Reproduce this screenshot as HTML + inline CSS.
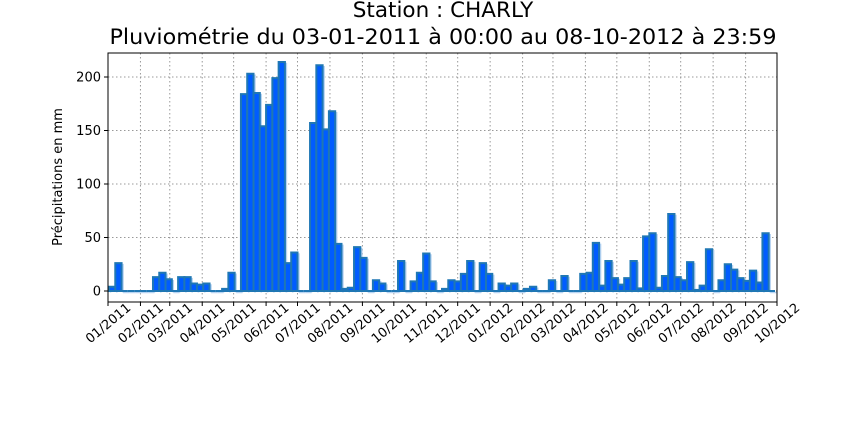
<!DOCTYPE html>
<html><head><meta charset="utf-8"><style>
body{margin:0;background:#fff}
svg{display:block;font-family:"DejaVu Sans","Liberation Sans",sans-serif}
</style></head><body>
<svg id="chart" width="864" height="432">
<text x="443" y="17" text-anchor="middle" font-size="21.5">Station : CHARLY</text>
<text x="443" y="44" text-anchor="middle" font-size="21.5" textLength="667" lengthAdjust="spacingAndGlyphs">Pluviométrie du 03-01-2011 à 00:00 au 08-10-2012 à 23:59</text>
<text transform="translate(62,177) rotate(-90)" text-anchor="middle" font-size="13">Précipitations en mm</text>
<g id="grid"></g><g id="bars"></g><g id="axes"></g>
</svg>
<script>
const values=[4,26,0,0,0,0,0,13,17,11,0,13,13,7,6,7,0,0,2,17,0,
184,203,185,154,174,199,214,26,36,0,0,157,211,151,168,44,2,3,41,31,0,10,7,0,0,28,0,9,17,35,9,0,
2,10,9,16,28,0,26,16,0,7,5,7,0,2,4,0,0,10,0,14,0,0,16,17,45,5,
28,12,6,12,28,2.5,51,54,3,14,72,13,10,27,1,5,39,0,10,25,20,12,9.5,19,8,54,0];
const yTicks=[0,50,100,150,200];
const monthLabels=["01/2011","02/2011","03/2011","04/2011","05/2011","06/2011","07/2011","08/2011","09/2011","10/2011","11/2011","12/2011","01/2012","02/2012","03/2012","04/2012","05/2012","06/2012","07/2012","08/2012","09/2012","10/2012"];

const NS="http://www.w3.org/2000/svg";
const L=108,R=777,T=53,B=302,barL=109,barR=775;
const y=v=>291-v*1.07;
const xBar=i=>barL+i*(barR-barL)/values.length;
const d0=Date.UTC(2011,0,1),d1=Date.UTC(2012,9,1);
const xMonth=s=>{const[m,yy]=s.split("/").map(Number);return L+(Date.UTC(yy,m-1,1)-d0)/(d1-d0)*(R-L);};
function mk(t,a,p){const e=document.createElementNS(NS,t);for(const k in a)e.setAttribute(k,a[k]);p.appendChild(e);return e;}
const grid=document.getElementById("grid"),bars=document.getElementById("bars"),axes=document.getElementById("axes");

yTicks.forEach(v=>{
  const g=mk("line",{x1:L,x2:R,y1:y(v),y2:y(v),stroke:"#999","stroke-dasharray":"1.5,2.5","stroke-width":1},grid);
  
  
  const tk=mk("line",{x1:L-4,x2:L,y1:y(v),y2:y(v),stroke:"#000"},axes);
  
  
  const t=mk("text",{x:L-7,y:y(v)+4.5,"text-anchor":"end","font-size":13},axes);
  t.textContent=v;
  
  
});
monthLabels.forEach(s=>{
  const x=xMonth(s);
  const g=mk("line",{x1:x,x2:x,y1:T,y2:B,stroke:"#999","stroke-dasharray":"1.5,2.5","stroke-width":1},grid);
  
  
  const tk=mk("line",{x1:x,x2:x,y1:B,y2:B+4,stroke:"#000"},axes);
  
  
  const t=mk("text",{x:0,y:0,"text-anchor":"middle","font-size":13,transform:`translate(${x},${B+21}) rotate(-40) translate(0,4.5)`},axes);
  t.textContent=s;
  
  
});
values.forEach((v,i)=>{
  const x0=xBar(i),x1=xBar(i+1),top=y(v),base=y(0);
  const sh=mk("path",{d:`M${x0+1.5} ${base+1.5}V${top+1.5}H${x1+1.5}V${base+1.5}`,fill:"none",stroke:"#b8d4f2","stroke-width":1.5},bars);
  
  
  const p=mk("path",{d:`M${x0} ${base}V${top}H${x1}V${base}Z`,fill:"#005cff",stroke:"#1f77b4","stroke-width":2,"stroke-linejoin":"miter"},bars);
  
  
});
const fr=mk("rect",{x:L,y:T,width:R-L,height:B-T,fill:"none",stroke:"#000","stroke-width":1},axes);


</script>
</body></html>
